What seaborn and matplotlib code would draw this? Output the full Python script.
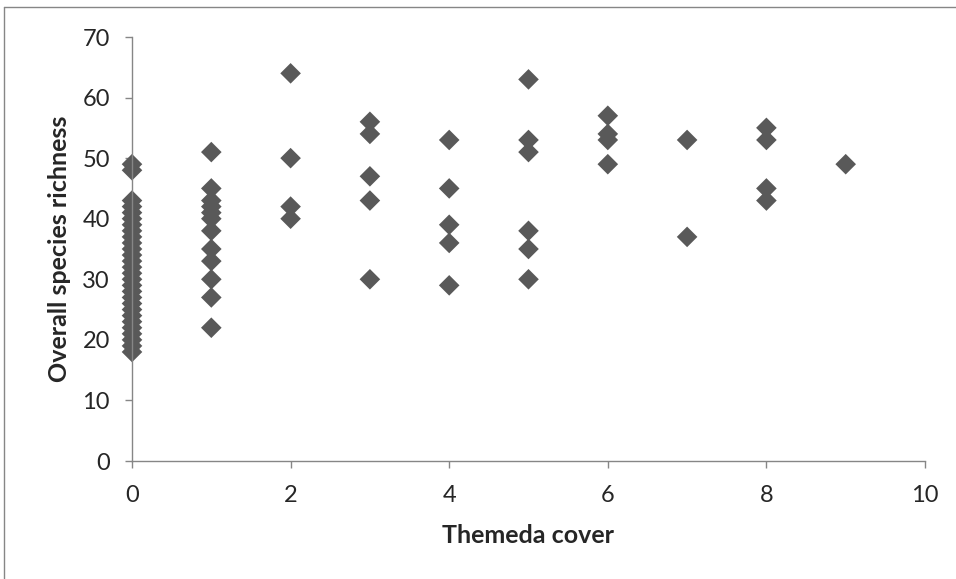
import matplotlib
matplotlib.use("Agg")
import matplotlib.pyplot as plt
import seaborn as sns
import pandas as pd
from matplotlib.lines import Line2D

# Themeda cover class and overall species richness, read per column
cover_0 = [18, 19, 20, 21, 22, 23, 24, 25, 26, 27, 28, 29, 30, 31, 32, 33, 34, 35,
           36, 37, 38, 39, 40, 41, 42, 43, 48, 49]
cover_1 = [51, 45, 43, 42, 41, 40, 38, 35, 33, 30, 27, 22]
cover_2 = [64, 50, 42, 40]
cover_3 = [56, 54, 47, 43, 30]
cover_4 = [53, 45, 39, 36, 29]
cover_5 = [63, 53, 51, 38, 35, 30]
cover_6 = [57, 54, 53, 49]
cover_7 = [53, 37]
cover_8 = [55, 53, 45, 43]
cover_9 = [49]

groups = [cover_0, cover_1, cover_2, cover_3, cover_4,
          cover_5, cover_6, cover_7, cover_8, cover_9]
rows = []
for cover, vals in enumerate(groups):
    for v in vals:
        rows.append({"Themeda cover": cover, "Overall species richness": v})
df = pd.DataFrame(rows)

sns.set_style("white")
plt.rcParams['font.family'] = ['Lato', 'DejaVu Sans']

fig = plt.figure(figsize=(9.56, 5.79), dpi=100)
ax = fig.add_axes([132 / 956, 1 - 461 / 579, (925 - 132) / 956, (461 - 37) / 579])

sns.scatterplot(data=df, x="Themeda cover", y="Overall species richness",
                marker="D", s=110, color="#595959", edgecolor="none", ax=ax)

ax.set_xlim(0, 10)
ax.set_ylim(0, 70)
ax.set_xticks(range(0, 11, 2))
ax.set_yticks(range(0, 71, 10))
ax.tick_params(axis="both", labelsize=17, length=5, width=1, color="#868686",
               direction="out", bottom=True, left=True)
ax.tick_params(axis="y", pad=11)
ax.tick_params(axis="x", pad=12)
for side in ["top", "right"]:
    ax.spines[side].set_visible(False)
for side in ["left", "bottom"]:
    ax.spines[side].set_color("#868686")
    ax.spines[side].set_linewidth(1)
for c in ax.collections:
    c.set_clip_on(False)

ax.set_xlabel("Themeda cover", fontsize=18, fontweight="bold", labelpad=13)
ax.set_ylabel("Overall species richness", fontsize=18, fontweight="bold", labelpad=8)

# chart border (left and top edges visible)
fig.add_artist(Line2D([4 / 956, 4 / 956], [0, 1 - 7 / 579], color="#868686", lw=1))
fig.add_artist(Line2D([4 / 956, 1], [1 - 7 / 579, 1 - 7 / 579], color="#868686", lw=1))

fig.savefig("out.png", dpi=100, facecolor="white")
